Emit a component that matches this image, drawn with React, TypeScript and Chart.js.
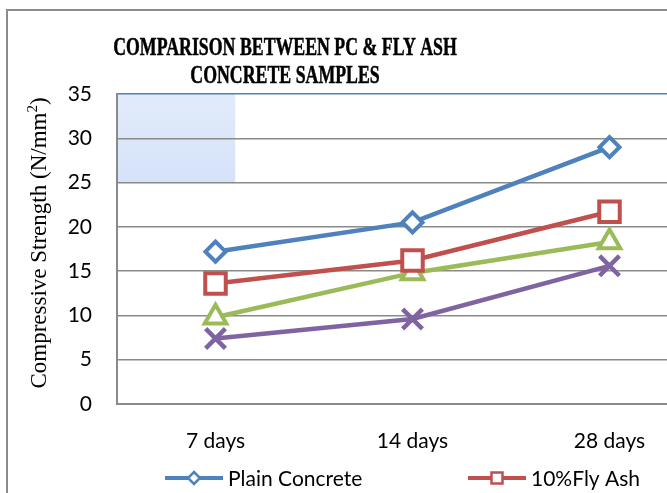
import React, { useEffect, useRef } from "react";
import { Chart, registerables } from "chart.js";

Chart.register(...registerables);

const categories = ["7 days", "14 days", "28 days"];
const seriesNames = ["Plain Concrete", "10%Fly Ash", "20%Fly Ash", "30%Fly Ash"];
const plainConcrete = [17.2, 20.5, 29.0];
const flyAsh10 = [13.6, 16.2, 21.7];
const flyAsh20 = [9.8, 14.8, 18.3];
const flyAsh30 = [7.4, 9.6, 15.6];
const yTicks = [0, 5, 10, 15, 20, 25, 30, 35];
const titleLines = ["COMPARISON BETWEEN PC & FLY ASH", "CONCRETE SAMPLES"];
const yTitleMain = "Compressive Strength (N/mm";
const yTitleSup = "2";
const yTitleEnd = ")";

const colors = ["#4F81BD", "#C0504D", "#9BBB59", "#8064A2"];
const pointStyles = ["rectRot", "rect", "triangle", "crossRot"];
const pointRadii = [10, 14.5, 12.5, 14];

const W = 760;
const H = 482;
const FONT = "Lato, 'Open Sans', sans-serif";

const decoPlugin = {
  id: "deco",
  beforeDraw(chart: any) {
    const { ctx, chartArea, scales } = chart;
    const y = scales.y;
    const catW = (chartArea.right - chartArea.left) / categories.length;
    const top = y.getPixelForValue(35);
    const bot = y.getPixelForValue(25);
    const g = ctx.createLinearGradient(0, top, 0, bot);
    g.addColorStop(0, "#e2ebfb");
    g.addColorStop(1, "#d5e2f8");
    ctx.save();
    ctx.fillStyle = g;
    ctx.fillRect(chartArea.left, top, catW * 0.6, bot - top);
    ctx.restore();
  },
  afterDraw(chart: any) {
    const { ctx } = chart;
    ctx.save();
    // title
    ctx.fillStyle = "#000";
    ctx.textAlign = "center";
    ctx.textBaseline = "alphabetic";
    ctx.font = "bold 20px 'Liberation Serif', 'Times New Roman', serif";
    const baselines = [44, 72];
    titleLines.forEach((t, i) => {
      ctx.save();
      ctx.translate(277, baselines[i]);
      ctx.scale(0.89, 1.27);
      ctx.fillText(t, 0, 0);
      ctx.strokeStyle = "#000";
      ctx.lineWidth = 0.4;
      ctx.strokeText(t, 0, 0);
      ctx.restore();
    });
    // y title with superscript
    ctx.save();
    ctx.translate(30, 243 - 11);
    ctx.rotate(-Math.PI / 2);
    ctx.textBaseline = "middle";
    ctx.textAlign = "left";
    const mainFont = "23px 'Liberation Serif', 'Times New Roman', serif";
    const supFont = "15px 'Liberation Serif', 'Times New Roman', serif";
    ctx.font = mainFont;
    const w1 = ctx.measureText(yTitleMain).width;
    const w3 = ctx.measureText(yTitleEnd).width;
    ctx.font = supFont;
    const w2 = ctx.measureText(yTitleSup).width;
    const total = w1 + w2 + w3;
    let sx = -total / 2;
    ctx.font = mainFont;
    ctx.fillText(yTitleMain, sx, 2);
    sx += w1;
    ctx.font = supFont;
    ctx.fillText(yTitleSup, sx, -5);
    sx += w2;
    ctx.font = mainFont;
    ctx.fillText(yTitleEnd, sx, 2);
    ctx.restore();
    // legend
    const legX = [157, 460, 763, 1066];
    const legY = 467;
    seriesNames.forEach((name, i) => {
      const lx = legX[i];
      ctx.strokeStyle = colors[i];
      ctx.lineWidth = 4;
      ctx.beginPath();
      ctx.moveTo(lx, legY);
      ctx.lineTo(lx + 58, legY);
      ctx.stroke();
      ctx.fillStyle = "#fff";
      ctx.lineWidth = 2.5;
      const cx = lx + 29;
      ctx.beginPath();
      if (pointStyles[i] === "rectRot") {
        ctx.moveTo(cx, legY - 6);
        ctx.lineTo(cx + 6, legY);
        ctx.lineTo(cx, legY + 6);
        ctx.lineTo(cx - 6, legY);
        ctx.closePath();
      } else if (pointStyles[i] === "rect") {
        ctx.rect(cx - 5.5, legY - 5.5, 11, 11);
      } else if (pointStyles[i] === "triangle") {
        ctx.moveTo(cx, legY - 6);
        ctx.lineTo(cx + 6, legY + 5);
        ctx.lineTo(cx - 6, legY + 5);
        ctx.closePath();
      } else {
        ctx.moveTo(cx - 5, legY - 5);
        ctx.lineTo(cx + 5, legY + 5);
        ctx.moveTo(cx + 5, legY - 5);
        ctx.lineTo(cx - 5, legY + 5);
      }
      ctx.fill();
      ctx.stroke();
      ctx.fillStyle = "#000";
      ctx.textAlign = "left";
      ctx.textBaseline = "middle";
      ctx.font = "21px " + FONT;
      ctx.fillText(name, lx + 63, legY + 1);
    });
    ctx.restore();
  },
};

export default function App() {
  const ref = useRef<HTMLCanvasElement | null>(null);
  useEffect(() => {
    if (!ref.current) return;
    const allData = [plainConcrete, flyAsh10, flyAsh20, flyAsh30];
    const chart = new Chart(ref.current, {
      type: "line",
      data: {
        labels: categories,
        datasets: allData.map((d, i) => ({
          label: seriesNames[i],
          data: d,
          borderColor: colors[i],
          backgroundColor: "#ffffff",
          borderWidth: 4.5,
          pointStyle: pointStyles[i] as any,
          pointRadius: pointRadii[i],
          pointBorderWidth: i === 3 ? 4.5 : 4,
          pointBorderColor: colors[i],
          pointBackgroundColor: "#ffffff",
          tension: 0,
          clip: false as any,
        })),
      },
      options: {
        responsive: false,
        animation: false,
        devicePixelRatio: 1,
        layout: { padding: { top: 83, right: 60, left: 0, bottom: 0 } },
        plugins: {
          legend: { display: false },
          title: { display: false },
          tooltip: { enabled: false },
        },
        scales: {
          x: {
            type: "category",
            offset: true,
            grid: { display: false, drawTicks: false },
            border: { display: true, color: "#8a8a8a", width: 2 },
            ticks: {
              color: "#000",
              padding: 25,
              font: { family: FONT, size: 21 },
            },
            afterFit(scale: any) {
              scale.height = H - 393;
            },
          },
          y: {
            min: 0,
            max: 35,
            afterBuildTicks(scale: any) {
              scale.ticks = yTicks.map((v) => ({ value: v }));
            },
            grid: {
              drawTicks: false,
              lineWidth: 1.5,
              color: (c: any) => (c.tick && c.tick.value === 35 ? "#4F81BD" : "#8a8a8a"),
            },
            border: { display: true, color: "#8a8a8a", width: 2 },
            ticks: {
              color: "#000",
              padding: 25,
              font: { family: FONT, size: 21 },
            },
            afterFit(scale: any) {
              scale.width = 109;
            },
          },
        },
      },
      plugins: [decoPlugin],
    });
    return () => chart.destroy();
  }, []);

  return (
    <div
      style={{
        position: "fixed",
        left: 0,
        top: 0,
        width: 667,
        height: 493,
        overflow: "hidden",
        background: "#fff",
      }}
    >
      <div
        style={{
          position: "absolute",
          left: 6,
          top: 9,
          width: 800,
          height: 600,
          borderLeft: "2px solid #8c8c8c",
          borderTop: "2px solid #8c8c8c",
        }}
      >
        <canvas ref={ref} width={W} height={H} style={{ display: "block" }} />
      </div>
    </div>
  );
}
